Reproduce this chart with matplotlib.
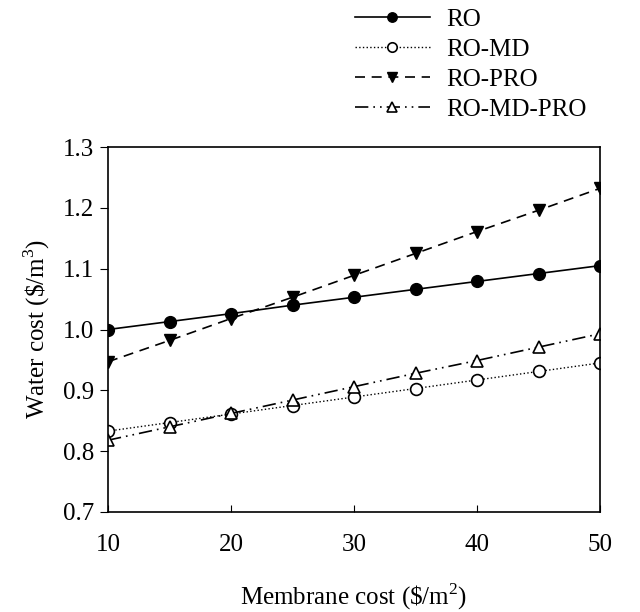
import matplotlib
matplotlib.use("Agg")
import matplotlib.pyplot as plt

plt.rcParams['font.family'] = ['Liberation Serif', 'DejaVu Serif']
plt.rcParams['mathtext.fontset'] = 'custom'
plt.rcParams['mathtext.rm'] = 'Liberation Serif'

membrane_cost = [10, 15, 20, 25, 30, 35, 40, 45, 50]
ro = [1.000, 1.013, 1.026, 1.040, 1.053, 1.066, 1.079, 1.092, 1.105]
ro_md = [0.833, 0.847, 0.861, 0.875, 0.889, 0.903, 0.917, 0.931, 0.945]
ro_pro = [0.947, 0.982, 1.018, 1.053, 1.089, 1.125, 1.161, 1.196, 1.232]
ro_md_pro = [0.818, 0.840, 0.862, 0.884, 0.906, 0.928, 0.949, 0.971, 0.993]
labels = ['RO', 'RO-MD', 'RO-PRO', 'RO-MD-PRO']
xticks = [10, 20, 30, 40, 50]
yticks = [0.7, 0.8, 0.9, 1.0, 1.1, 1.2, 1.3]

fig = plt.figure(figsize=(6.4, 6.12), dpi=100)
ax = fig.add_axes([108/640, 1 - 512/612, (600-108)/640, (512-147)/612])

ms = 8.5
ax.plot(membrane_cost, ro, '-', color='black', lw=1.2, marker='o', ms=ms,
        mfc='black', mec='black', label=labels[0])
ax.plot(membrane_cost, ro_md, ':', color='black', lw=1.0, marker='o', ms=ms,
        mfc='white', mec='black', mew=1.2, label=labels[1])
ax.plot(membrane_cost, ro_pro, color='black', lw=1.2, ls=(0, (6, 4)), marker='v', ms=ms,
        mfc='black', mec='black', label=labels[2])
ax.plot(membrane_cost, ro_md_pro, color='black', lw=1.2, ls=(0, (8, 3, 1, 3, 1, 3)), marker='^', ms=ms,
        mfc='white', mec='black', mew=1.2, label=labels[3])

ax.set_xlim(10, 50)
ax.set_ylim(0.7, 1.3)
ax.set_xticks(xticks)
ax.set_yticks(yticks)
ax.set_xticklabels([str(v) for v in xticks])
ax.set_yticklabels([f'{v:.1f}' for v in yticks])
ax.tick_params(axis='x', direction='in', length=5, labelsize=18, pad=16)
ax.tick_params(axis='y', direction='out', length=6, labelsize=18, pad=4)
for s in ax.spines.values():
    s.set_linewidth(1.2)

ax.set_xlabel('Membrane cost (\\$/m$^2$)', fontsize=18, labelpad=18)
ax.set_ylabel('Water cost (\\$/m$^3$)', fontsize=18, labelpad=8)

leg = fig.legend(loc='upper left', bbox_to_anchor=(332/640, 1 + 14/612), frameon=False,
                 fontsize=18, handlelength=3.0, handletextpad=0.65, labelspacing=0.3,
                 markerscale=0.8)

fig.savefig('out.png', dpi=100)
